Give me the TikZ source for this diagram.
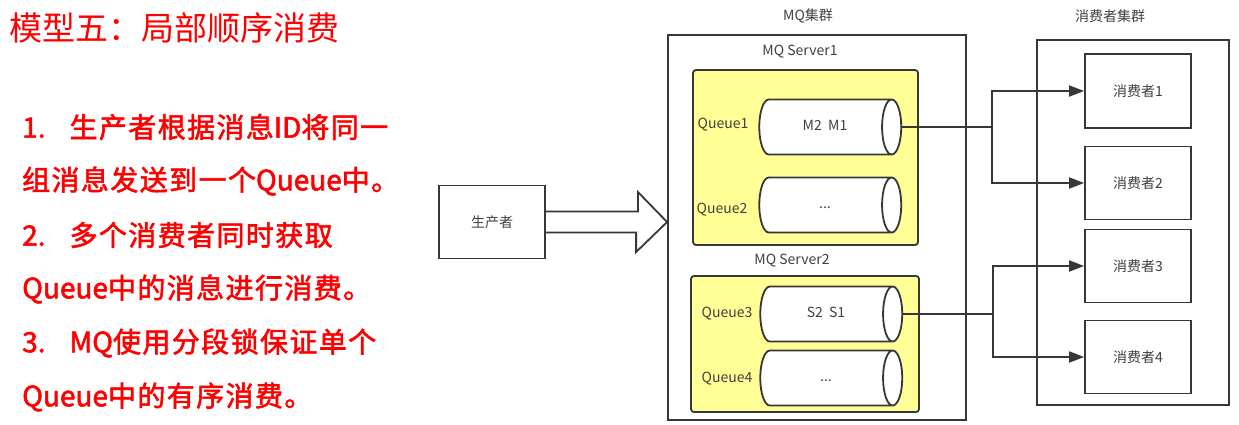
\documentclass[tikz,border=0pt]{standalone}
\usepackage{fontspec}
\setmainfont{Noto Sans CJK SC}
\newfontfamily\notefont[LetterSpace=5,FakeBold=2]{Noto Sans CJK SC}
\newfontfamily\notelatin[FakeBold=2]{Noto Sans CJK SC}
\newcommand{\lat}[1]{{\notelatin #1}}
\usetikzlibrary{shapes.geometric,arrows.meta}

\definecolor{linegray}{RGB}{55,55,55}
\definecolor{txtgray}{RGB}{64,64,64}
\definecolor{srvyellow}{RGB}{255,255,150}
\definecolor{notered}{RGB}{255,0,0}

\begin{document}
\begin{tikzpicture}[x=1pt,y=-1pt,
    box/.style={draw=linegray,line width=1.8pt,fill=white,inner sep=0pt,
      font=\fontsize{14}{14}\selectfont,text=txtgray},
    server/.style={draw=linegray,line width=1.8pt,fill=srvyellow,rounded corners=3pt},
    queue/.style={cylinder,draw=linegray,line width=1.8pt,fill=white,aspect=1.6,
      minimum height=142pt,minimum width=55pt,inner sep=0pt,
      text height=9pt,text depth=3pt,
      font=\fontsize{14}{14}\selectfont,text=txtgray},
    lbl/.style={font=\fontsize{14}{14}\selectfont,text=txtgray,inner sep=0pt},
    note/.style={anchor=west,inner sep=0pt,text=notered,
      font=\notefont\fontsize{28}{28}\selectfont},
    flow/.style={draw=linegray,line width=1.8pt,-{Triangle[length=15pt,width=11pt]}}]
    \useasboundingbox (0,0) rectangle (1239,424);

    % Title and notes on the left.
    \node[anchor=west,inner sep=0pt,text=notered,font=\fontsize{33}{33}\selectfont]
      (title) at (9,28) {模型五：局部顺序消费};
    \node[note] (n1) at (22,127) {\lat{1.}\hspace{24pt}生产者根据消息\lat{ID}将同一};
    \node[note] (n2) at (22,181) {组消息发送到一个\lat{Queue}中。};
    \node[note] (n3) at (22,235) {\lat{2.}\hspace{24pt}多个消费者同时获取};
    \node[note] (n4) at (22,289) {\lat{Queue}中的消息进行消费。};
    \node[note] (n5) at (22,343) {\lat{3.}\hspace{24pt}\lat{MQ}使用分段锁保证单个};
    \node[note] (n6) at (22,397) {\lat{Queue}中的有序消费。};

    % Clusters.
    \node[box,minimum width=298pt,minimum height=385pt] (mq) at (817,227.5) {};
    \node[lbl] (mqlbl) at (808,16) {MQ集群};
    \node[box,minimum width=192pt,minimum height=365pt] (cc) at (1133,222.5) {};
    \node[lbl] (cclbl) at (1110,16) {消费者集群};

    % MQ servers and their queues.
    \node[server,minimum width=225pt,minimum height=175pt] (srv1) at (805.5,157.5) {};
    \node[lbl] (srv1lbl) at (800,52) {MQ Server1};
    \node[server,minimum width=228pt,minimum height=136pt] (srv2) at (805,344) {};
    \node[lbl] (srv2lbl) at (792,261) {MQ Server2};

    \node[queue] (q1) at (825,127) {M2\ \ M1};
    \node[queue] (q2) at (825,205) {...};
    \node[queue] (q3) at (826,314) {S2\ \ S1};
    \node[queue] (q4) at (826,378) {...};
    \node[lbl] at (723,125) {Queue1};
    \node[lbl] at (722,210) {Queue2};
    \node[lbl] at (727,314) {Queue3};
    \node[lbl] at (727,379) {Queue4};

    % Producer and the big arrow into the cluster.
    \node[box,minimum width=106pt,minimum height=73pt] (prod) at (492,222) {生产者};
    \draw[linegray,line width=1.8pt,line join=miter]
      (prod.east) ++(0,-10.5) -- ++(92,0) -- ++(0,-19.5) -- (mq.west |- prod.east)
      -- ++(-31,30) -- ++(0,-19.5) -- ++(-92,0);

    % Consumers.
    \node[box,minimum width=106pt,minimum height=74pt] (c1) at (1138,91) {消费者1};
    \node[box,minimum width=106pt,minimum height=73pt] (c2) at (1138,183) {消费者2};
    \node[box,minimum width=106pt,minimum height=73pt] (c3) at (1138,266) {消费者3};
    \node[box,minimum width=106pt,minimum height=73pt] (c4) at (1138,357) {消费者4};

    % Queue1 and Queue3 fan out to two consumers each.
    \coordinate (j1) at (992,127);
    \coordinate (j3) at (993,314);
    \draw[line width=1.8pt,linegray] (q1.east) -- (j1);
    \draw[flow] (j1) |- (c1.west);
    \draw[flow] (j1) |- (c2.west);
    \draw[line width=1.8pt,linegray] (q3.east) -- (j3);
    \draw[flow] (j3) |- (c3.west);
    \draw[flow] (j3) |- (c4.west);
\end{tikzpicture}
\end{document}
